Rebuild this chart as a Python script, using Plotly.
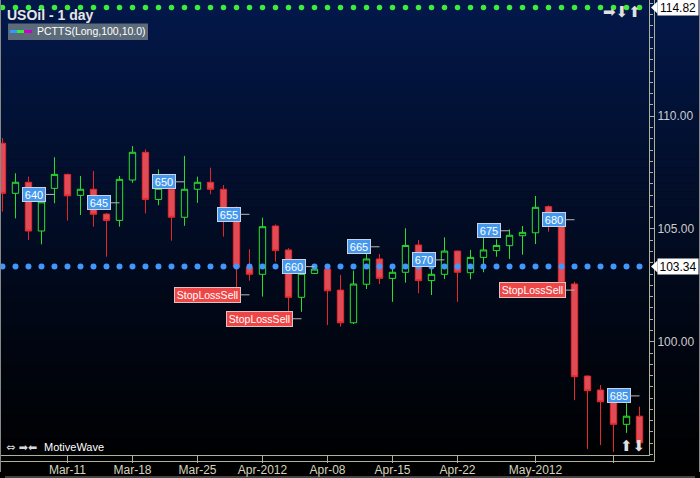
import plotly.graph_objects as go

# ---------------- data ----------------
dates = ['2012-03-05', '2012-03-06', '2012-03-07', '2012-03-08', '2012-03-09',
         '2012-03-12', '2012-03-13', '2012-03-14', '2012-03-15', '2012-03-16',
         '2012-03-19', '2012-03-20', '2012-03-21', '2012-03-22', '2012-03-23',
         '2012-03-26', '2012-03-27', '2012-03-28', '2012-03-29', '2012-03-30',
         '2012-04-02', '2012-04-03', '2012-04-04', '2012-04-05', '2012-04-06',
         '2012-04-09', '2012-04-10', '2012-04-11', '2012-04-12', '2012-04-13',
         '2012-04-16', '2012-04-17', '2012-04-18', '2012-04-19', '2012-04-20',
         '2012-04-23', '2012-04-24', '2012-04-25', '2012-04-26', '2012-04-27',
         '2012-04-30', '2012-05-01', '2012-05-02', '2012-05-03', '2012-05-04',
         '2012-05-07', '2012-05-08', '2012-05-09', '2012-05-10', '2012-05-11']

opens = [108.80, 106.58, 107.07, 104.91, 106.80, 107.42, 106.49, 106.76, 105.66, 105.38,
         107.17, 108.40, 106.31, 106.76, 105.52, 106.76, 107.07, 106.76, 105.85, 103.30,
         102.99, 105.13, 104.07, 101.97, 103.03, 103.22, 102.29, 100.84, 102.55, 103.67,
         102.81, 103.08, 104.29, 102.71, 102.99, 104.02, 103.06, 103.74, 104.04, 104.26,
         104.70, 104.83, 105.99, 105.45, 102.56, 98.48, 97.86, 97.34, 96.34, 96.70]
highs = [109.03, 107.47, 107.32, 106.35, 108.18, 107.45, 107.35, 107.57, 105.70, 107.35,
         108.68, 108.53, 107.64, 106.90, 108.24, 107.32, 107.72, 106.95, 106.00, 104.10,
         105.50, 105.20, 104.15, 103.40, 103.30, 103.25, 102.96, 103.15, 103.92, 103.89,
         103.30, 105.03, 104.51, 103.45, 104.63, 104.05, 104.07, 104.65, 104.54, 104.98,
         105.13, 106.46, 106.05, 105.55, 102.66, 98.50, 98.08, 97.50, 97.27, 97.12]
lows = [105.77, 105.47, 104.51, 104.32, 106.14, 105.37, 105.62, 105.10, 103.77, 105.10,
        107.05, 105.69, 106.05, 104.48, 105.14, 106.16, 106.54, 104.66, 102.40, 102.71,
        102.00, 103.55, 101.10, 101.33, 103.00, 100.74, 100.67, 100.79, 102.34, 102.56,
        101.77, 102.62, 102.15, 102.07, 102.78, 101.77, 102.77, 103.08, 103.77, 103.67,
        103.86, 104.33, 104.88, 102.45, 97.41, 95.24, 95.42, 95.12, 95.96, 95.42]
closes = [106.58, 107.07, 104.91, 106.20, 107.42, 106.47, 106.76, 105.65, 105.38, 107.20,
          108.40, 106.31, 106.80, 105.52, 106.76, 107.07, 106.76, 105.50, 103.31, 102.99,
          105.10, 104.04, 101.97, 103.03, 103.22, 102.26, 100.84, 102.56, 103.67, 102.81,
          103.08, 104.27, 102.71, 102.99, 104.02, 103.08, 103.74, 104.07, 104.27, 104.72,
          104.85, 105.96, 105.60, 102.60, 98.45, 97.83, 97.34, 96.34, 96.70, 95.52]

# PCTTS indicator levels (dotted lines)
stop_level = [103.34, 103.34, 103.34, 103.34, 103.34, 103.34, 103.34, 103.34, 103.34, 103.34,
              103.34, 103.34, 103.34, 103.34, 103.34, 103.34, 103.34, 103.34, 103.34, 103.34,
              103.34, 103.34, 103.34, 103.34, 103.34, 103.34, 103.34, 103.34, 103.34, 103.34,
              103.34, 103.34, 103.34, 103.34, 103.34, 103.34, 103.34, 103.34, 103.34, 103.34,
              103.34, 103.34, 103.34, 103.34, 103.34, 103.34, 103.34, 103.34, 103.34, 103.34]
upper_level = [114.82, 114.82, 114.82, 114.82, 114.82, 114.82, 114.82, 114.82, 114.82, 114.82,
               114.82, 114.82, 114.82, 114.82, 114.82, 114.82, 114.82, 114.82, 114.82, 114.82,
               114.82, 114.82, 114.82, 114.82, 114.82, 114.82, 114.82, 114.82, 114.82, 114.82,
               114.82, 114.82, 114.82, 114.82, 114.82, 114.82, 114.82, 114.82, 114.82, 114.82,
               114.82, 114.82, 114.82, 114.82, 114.82, 114.82, 114.82, 114.82, 114.82, 114.82]

# bar-number labels
num_label_dates = ['2012-03-09', '2012-03-16', '2012-03-23', '2012-03-30', '2012-04-06',
                   '2012-04-13', '2012-04-20', '2012-04-27', '2012-05-04', '2012-05-11']
num_label_texts = ['640', '645', '650', '655', '660', '665', '670', '675', '680', '685']
num_label_prices = [106.53, 106.16, 107.09, 105.65, 103.33, 104.21, 103.63, 104.92, 105.41, 97.60]

# stop-loss signals
sl_dates = ['2012-03-30', '2012-04-05', '2012-05-04']
sl_texts = ['StopLossSell', 'StopLossSell', 'StopLossSell']
sl_prices = [102.08, 101.02, 102.29]

# x tick labels
tick_dates = ['2012-03-12', '2012-03-19', '2012-03-26', '2012-04-02', '2012-04-09',
              '2012-04-16', '2012-04-23', '2012-05-01', '2012-05-09']
tick_labels = ['Mar-11', 'Mar-18', 'Mar-25', 'Apr-2012', 'Apr-08',
               'Apr-15', 'Apr-22', 'May-2012', '']

# y tick labels
y_ticks = [100, 105, 110]

y_range = [94.98, 115.15]
x_range = [-0.19, 49.73]

# ---------------- layout geometry ----------------
W, H = 700, 478
ML, MR, MT, MB = 0, 51, 0, 23
PW, PH = W - ML - MR, H - MT - MB


def px(xp):
    return (xp - ML) / PW


def py(yp):
    return 1 - (yp - MT) / PH


AXIS = '#b0b098'
FONT = 'Liberation Sans, Arial, sans-serif'

fig = go.Figure()

fig.add_trace(go.Candlestick(
    x=dates, open=opens, high=highs, low=lows, close=closes,
    increasing=dict(line=dict(color='#2ee02e', width=1), fillcolor='rgba(0,0,0,0)'),
    decreasing=dict(line=dict(color='#e8282c', width=1), fillcolor='#e04c56'),
    whiskerwidth=0, hoverinfo='skip', showlegend=False,
))

fig.add_trace(go.Scatter(
    x=dates, y=stop_level, mode='markers',
    marker=dict(color='#4098ff', size=6), hoverinfo='skip', showlegend=False,
))
fig.add_trace(go.Scatter(
    x=dates, y=upper_level, mode='markers', cliponaxis=False,
    marker=dict(color='#3cee3c', size=5.5), hoverinfo='skip', showlegend=False,
))

shapes = []
# gradient background
n_bands = 60
for i in range(n_bands):
    y0p = H * i / n_bands
    y1p = H * (i + 1) / n_bands
    t = (i + 0.5) / n_bands
    f = (1 - t) ** 1.15
    col = 'rgb(%d,%d,%d)' % (round(3 * f), round(24 * f), round(74 * f))
    shapes.append(dict(type='rect', xref='paper', yref='paper', layer='below',
                       x0=px(0), x1=px(W), y0=py(y1p + 0.5), y1=py(y0p),
                       fillcolor=col, line=dict(width=0)))

# outer axis frame lines
shapes.append(dict(type='line', xref='paper', yref='paper', x0=px(0), x1=px(654.5),
                   y0=py(461.5), y1=py(461.5), line=dict(color=AXIS, width=1)))
shapes.append(dict(type='line', xref='paper', yref='paper', x0=px(654.5), x1=px(654.5),
                   y0=py(0), y1=py(461.5), line=dict(color=AXIS, width=1)))
# window border
shapes.append(dict(type='line', xref='paper', yref='paper', x0=px(0.5), x1=px(0.5),
                   y0=py(0), y1=py(472), line=dict(color='#888888', width=1)))
shapes.append(dict(type='line', xref='paper', yref='paper', x0=px(5), x1=px(695),
                   y0=py(477), y1=py(477), line=dict(color='#888888', width=1)))
shapes.append(dict(type='line', xref='paper', yref='paper', x0=px(699.5), x1=px(699.5),
                   y0=py(0), y1=py(472), line=dict(color='#888888', width=1)))

# legend box
shapes.append(dict(type='rect', xref='paper', yref='paper', x0=px(8), x1=px(148),
                   y0=py(40), y1=py(23.5), fillcolor='#5b6b79', line=dict(width=0)))
for xa, xb, c in [(10, 17, '#3399ff'), (17, 24, '#33ee33'), (24, 32, '#cc00cc')]:
    shapes.append(dict(type='line', xref='paper', yref='paper', x0=px(xa), x1=px(xb),
                       y0=py(31.5), y1=py(31.5), line=dict(color=c, width=3)))

# price tag pointers
for lvl in (upper_level[-1], stop_level[-1]):
    d = 6 / (PH / (y_range[1] - y_range[0]))
    shapes.append(dict(type='path', xref='paper', yref='y',
                       path='M %f,%f L %f,%f L %f,%f Z' % (px(651), lvl, px(657.5), lvl + d,
                                                           px(657.5), lvl - d),
                       fillcolor='white', line=dict(width=0)))

annotations = []
# title
annotations.append(dict(xref='paper', yref='paper', x=px(5), y=py(15), xanchor='left',
                        yanchor='middle', showarrow=False, text='<b>USOil - 1 day</b>',
                        font=dict(family=FONT, size=14, color='#e6e6e6')))
annotations.append(dict(xref='paper', yref='paper', x=px(35), y=py(31.5), xanchor='left',
                        yanchor='middle', showarrow=False, text='PCTTS(Long,100,10.0)',
                        font=dict(family=FONT, size=10.5, color='#ffffff')))
# bottom-left branding
annotations.append(dict(xref='paper', yref='paper', x=px(4), y=py(447), xanchor='left',
                        yanchor='middle', showarrow=False, text='⇔ ➡⬅',
                        font=dict(family='DejaVu Sans', size=11, color='#d8d8d8')))
annotations.append(dict(xref='paper', yref='paper', x=px(42), y=py(447), xanchor='left',
                        yanchor='middle', showarrow=False, text='MotiveWave',
                        font=dict(family=FONT, size=11, color='#ffffff')))
# navigation arrows
annotations.append(dict(xref='paper', yref='paper', x=px(622), y=py(12), xanchor='center',
                        yanchor='middle', showarrow=False, text='➡⬇⬆',
                        font=dict(family='DejaVu Sans', size=15, color='#e0e0e0')))
annotations.append(dict(xref='paper', yref='paper', x=px(632), y=py(446), xanchor='center',
                        yanchor='middle', showarrow=False, text='⬆⬇',
                        font=dict(family='DejaVu Sans', size=15, color='#e0e0e0')))

# price tags
for lvl in (upper_level[-1], stop_level[-1]):
    annotations.append(dict(xref='paper', yref='y', x=px(657), y=lvl, xanchor='left',
                            yanchor='middle', showarrow=False, text='%.2f' % lvl,
                            bgcolor='#ffffff', borderpad=1, width=38, height=13,
                            font=dict(family=FONT, size=12, color='#000000')))

# bar-number labels
for d_, t_, p_ in zip(num_label_dates, num_label_texts, num_label_prices):
    annotations.append(dict(x=d_, y=p_, xref='x', yref='y', text=t_, showarrow=True,
                            arrowhead=0, arrowwidth=1, arrowcolor='#b8b8b8', ax=-20.5, ay=0,
                            bgcolor='#4598ee', bordercolor='#c8d4e0', borderwidth=1,
                            borderpad=0, width=22, height=13,
                            font=dict(family=FONT, size=11, color='#ffffff')))

# stop-loss labels
for d_, t_, p_ in zip(sl_dates, sl_texts, sl_prices):
    annotations.append(dict(x=d_, y=p_, xref='x', yref='y', text=t_, showarrow=True,
                            arrowhead=0, arrowwidth=1, arrowcolor='#b8b8b8', ax=-42, ay=0,
                            bgcolor='#ee4646', bordercolor='#e0c0c0', borderwidth=1,
                            borderpad=0, width=65, height=14,
                            font=dict(family=FONT, size=10.5, color='#ffffff')))

fig.update_layout(
    width=W, height=H,
    margin=dict(l=ML, r=MR, t=MT, b=MB, pad=0, autoexpand=False),
    paper_bgcolor='#000000', plot_bgcolor='rgba(0,0,0,0)',
    showlegend=False, hovermode=False,
    shapes=shapes, annotations=annotations,
    boxgap=0.3,
    xaxis=dict(type='category', range=x_range, rangeslider=dict(visible=False),
               automargin=False,
               tickvals=tick_dates, ticktext=tick_labels, ticks='outside', ticklen=7,
               ticklabelstandoff=-3,
               tickcolor=AXIS, showline=True, linecolor=AXIS, linewidth=1,
               showgrid=False, zeroline=False, tickangle=0,
               tickfont=dict(family=FONT, size=12, color='#d4d4bc')),
    yaxis=dict(side='right', range=y_range, tickmode='array', tickvals=y_ticks,
               tickformat='.2f', automargin=False,
               ticks='outside', ticklen=5, tickcolor=AXIS, showline=True, linecolor=AXIS,
               linewidth=1, showgrid=False, zeroline=False,
               minor=dict(tickmode='linear', tick0=0, dtick=0.5, ticks='outside',
                          ticklen=3, tickcolor=AXIS),
               tickfont=dict(family=FONT, size=12, color='#cccccc')),
)

fig.write_html('out.html', config={'displayModeBar': False},
               post_script="document.body.style.margin='0px';document.body.style.padding='0px';"
                           "document.body.style.background='#000';")
